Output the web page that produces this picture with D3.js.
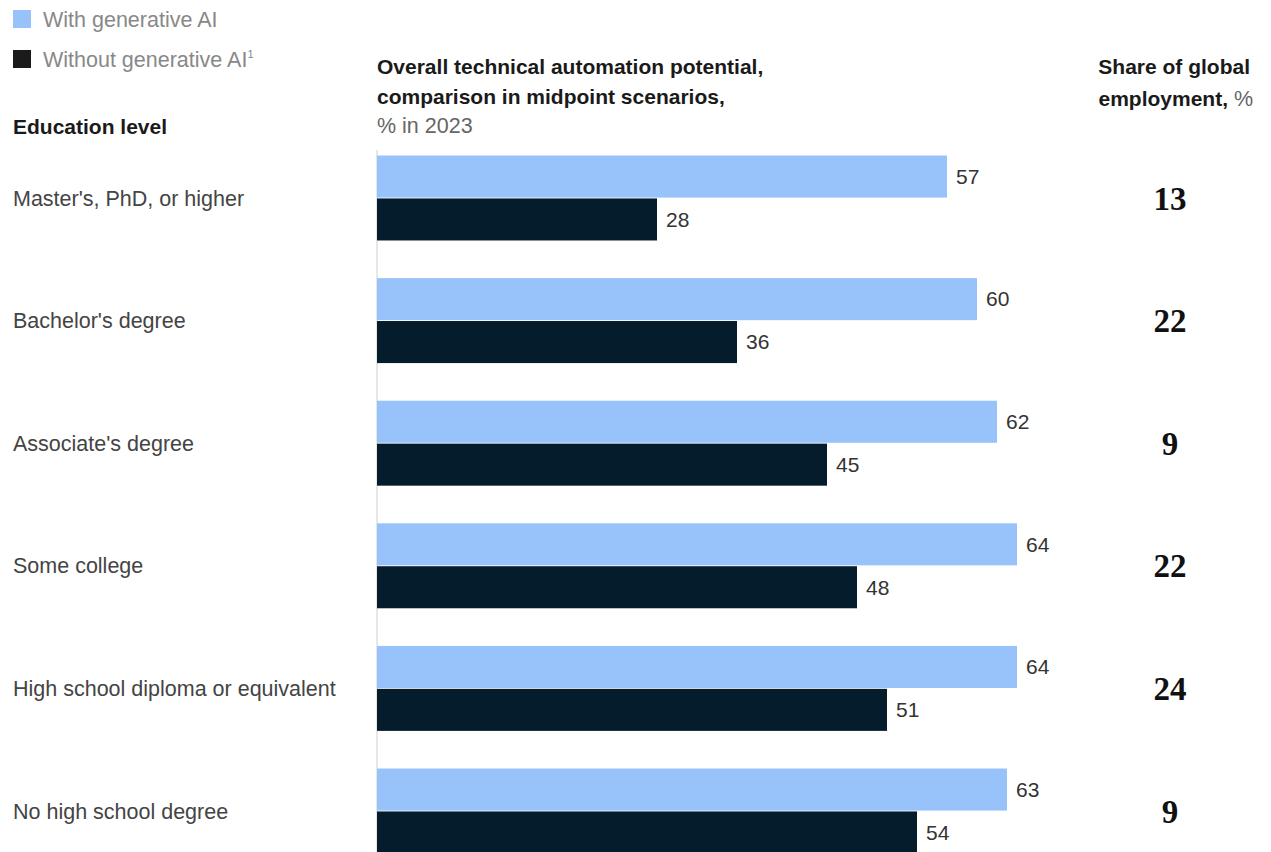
<html>
  <head>
    <meta charset="utf-8">
    <title>Automation potential by education level</title>
    <style>
      body {
        margin: 0;
        background: #ffffff;
        font-family: 'Liberation Sans', Arial, sans-serif;
      }
      svg { display: block; }
      .cat { font-size: 21.5px; fill: #444; }
      .val { font-size: 21px; fill: #333; }
      .head { font-size: 21px; font-weight: bold; fill: #1a1a1a; }
      .sub { font-size: 21.5px; fill: #666; }
      .legend-text { font-size: 21.5px; fill: #888; }
      .share { font-family: 'Liberation Serif', 'DejaVu Serif', serif; font-size: 33px; font-weight: bold; fill: #111; }
    </style>
  </head>
<body>
<div id="chart"></div>

<script src="https://cdnjs.cloudflare.com/ajax/libs/d3/7.8.5/d3.min.js"></script>
<script>
  // data
  const levels = ["Master's, PhD, or higher", "Bachelor's degree", "Associate's degree",
                  "Some college", "High school diploma or equivalent", "No high school degree"]
  const withGenAI = [57, 60, 62, 64, 64, 63]
  const withoutGenAI = [28, 36, 45, 48, 51, 54]
  const shareEmployment = [13, 22, 9, 22, 24, 9]
  const seriesNames = ["With generative AI", "Without generative AI"]
  const seriesColors = ["#98c2fa", "#051c2c"]

  const width = 1271
  const height = 852

  const rows = levels.map((d, i) => ({
    level: d,
    values: [withGenAI[i], withoutGenAI[i]],
    share: shareEmployment[i]
  }))

  const svg = d3.select("#chart").append("svg")
    .attr("width", width)
    .attr("height", height)

  // scales
  const x = d3.scaleLinear()
    .domain([0, 64])
    .range([377, 1017])

  const y = d3.scaleBand()
    .domain(levels)
    .range([136.7, 872.3])
    .paddingInner(0.307)
    .paddingOuter(0.1535)

  const ySub = d3.scaleBand()
    .domain([0, 1])
    .range([0, y.bandwidth()])
    .paddingInner(0.02)

  const color = d3.scaleOrdinal()
    .domain([0, 1])
    .range(seriesColors)

  // legend
  const legend = svg.selectAll(".legend")
    .data(seriesNames)
    .join("g")
    .attr("class", "legend")
    .attr("transform", (d, i) => "translate(13," + (10 + i * 40) + ")")

  legend.append("rect")
    .attr("width", 18)
    .attr("height", 18)
    .attr("fill", (d, i) => i == 0 ? seriesColors[0] : "#1b1b1b")

  legend.append("text")
    .attr("class", "legend-text")
    .attr("x", 30)
    .attr("y", 17)
    .text(d => d)
    .filter((d, i) => i == 1)
    .append("tspan")
    .attr("dy", -9)
    .attr("font-size", 11)
    .text("1")

  // column headers
  svg.append("text")
    .attr("class", "head")
    .attr("x", 13)
    .attr("y", 134)
    .text("Education level")

  const title = svg.append("text").attr("x", 377)
  title.append("tspan").attr("class", "head").attr("x", 377).attr("y", 74)
    .text("Overall technical automation potential,")
  title.append("tspan").attr("class", "head").attr("x", 377).attr("y", 104)
    .text("comparison in midpoint scenarios,")
  title.append("tspan").attr("class", "sub").attr("x", 377).attr("y", 133)
    .text("% in 2023")

  const shareHead = svg.append("text").attr("text-anchor", "end")
  shareHead.append("tspan").attr("class", "head").attr("x", 1250).attr("y", 74)
    .text("Share of global")
  const l2 = shareHead.append("tspan").attr("x", 1253).attr("y", 106)
  l2.append("tspan").attr("class", "head").text("employment, ")
  l2.append("tspan").attr("class", "sub").text("%")

  // axis line
  svg.append("line")
    .attr("x1", x(0)).attr("x2", x(0))
    .attr("y1", 150).attr("y2", height)
    .attr("stroke", "#cfcfcf")
    .attr("stroke-width", 1)

  // rows
  const row = svg.selectAll(".row")
    .data(rows)
    .join("g")
    .attr("class", "row")
    .attr("transform", d => "translate(0," + y(d.level) + ")")

  row.append("text")
    .attr("class", "cat")
    .attr("x", 13)
    .attr("y", y.bandwidth() / 2)
    .attr("dy", "0.35em")
    .text(d => d.level)

  row.selectAll("rect")
    .data(d => d.values)
    .join("rect")
    .attr("x", x(0))
    .attr("y", (d, i) => ySub(i))
    .attr("width", d => x(d) - x(0))
    .attr("height", ySub.bandwidth())
    .attr("fill", (d, i) => color(i))

  row.selectAll(".val")
    .data(d => d.values)
    .join("text")
    .attr("class", "val")
    .attr("x", d => x(d) + 9)
    .attr("y", (d, i) => ySub(i) + ySub.bandwidth() / 2)
    .attr("dy", "0.35em")
    .text(d => d)

  row.append("text")
    .attr("class", "share")
    .attr("x", 1170)
    .attr("y", y.bandwidth() / 2)
    .attr("dy", "0.35em")
    .attr("text-anchor", "middle")
    .text(d => d.share)
</script>
</body>
</html>
